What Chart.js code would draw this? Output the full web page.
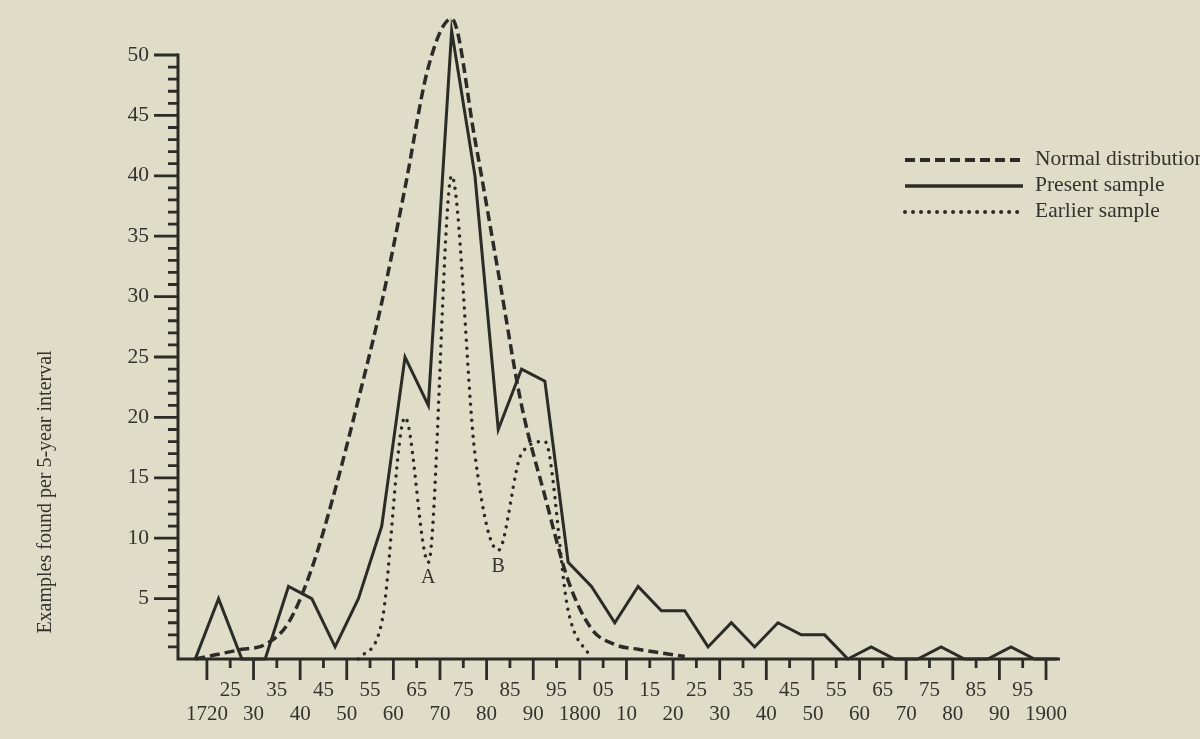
<!DOCTYPE html>
<html>
<head>
<meta charset="utf-8">
<script src="https://cdn.jsdelivr.net/npm/chart.js@4.4.1/dist/chart.umd.min.js"></script>
<style>
  html, body { margin: 0; padding: 0; background: #dfddc7; }
  canvas { display: block; }
</style>
</head>
<body>
<canvas id="chart" width="1200" height="739"></canvas>
<script>
// mid-points of the 5-year intervals
const midYears = [1717.5, 1722.5, 1727.5, 1732.5, 1737.5, 1742.5, 1747.5, 1752.5, 1757.5, 1762.5,
                  1767.5, 1772.5, 1777.5, 1782.5, 1787.5, 1792.5, 1797.5, 1802.5, 1807.5, 1812.5,
                  1817.5, 1822.5, 1827.5, 1832.5, 1837.5, 1842.5, 1847.5, 1852.5, 1857.5, 1862.5,
                  1867.5, 1872.5, 1877.5, 1882.5, 1887.5, 1892.5, 1897.5, 1902.5];
const normalDist = [0, 0.4, 0.8, 1.2, 3, 7.5, 14, 21.5, 29.5, 39,
                    49, 53, 43, 32, 21, 13.5, 6.5, 2.5, 1.2, 0.8,
                    0.5, 0.2, null, null, null, null, null, null, null, null,
                    null, null, null, null, null, null, null, null];
const presentSample = [0, 5, 0, 0, 6, 5, 1, 5, 11, 25,
                       21, 52, 40, 19, 24, 23, 8, 6, 3, 6,
                       4, 4, 1, 3, 1, 3, 2, 2, 0, 1,
                       0, 0, 1, 0, 0, 1, 0, 0];
const earlierSample = [null, null, null, null, null, null, null, 0, 3, 20,
                       8, 40, 17, 9, 17, 18, 4, 0, null, null,
                       null, null, null, null, null, null, null, null, null, null,
                       null, null, null, null, null, null, null, null];
const seriesNames = ['Normal distribution', 'Present sample', 'Earlier sample'];

// axis ticks and their labels
const lowerYears = [1720, 1730, 1740, 1750, 1760, 1770, 1780, 1790, 1800, 1810,
                    1820, 1830, 1840, 1850, 1860, 1870, 1880, 1890, 1900];
const lowerLabels = ['1720', '30', '40', '50', '60', '70', '80', '90', '1800', '10',
                     '20', '30', '40', '50', '60', '70', '80', '90', '1900'];
const upperYears = [1725, 1735, 1745, 1755, 1765, 1775, 1785, 1795, 1805, 1815,
                    1825, 1835, 1845, 1855, 1865, 1875, 1885, 1895];
const upperLabels = ['25', '35', '45', '55', '65', '75', '85', '95', '05', '15',
                     '25', '35', '45', '55', '65', '75', '85', '95'];
const yTickValues = [5, 10, 15, 20, 25, 30, 35, 40, 45, 50];
const notes = [{ text: 'A', x: 1767.5, y: 6.7 }, { text: 'B', x: 1782.5, y: 7.6 }];
const yTitle = 'Examples found per 5-year interval';

const ink = '#2b2b27';
const serif = "'Liberation Serif', 'Times New Roman', serif";
Chart.defaults.font.family = serif;
Chart.defaults.color = '#33332e';

const toPoints = arr => midYears.map((x, i) => ({ x: x, y: arr[i] }));

const paperAxes = {
  id: 'paperAxes',
  beforeDatasetsDraw(chart) {
    const { ctx, chartArea: a, scales: { x, y } } = chart;
    const y0 = y.getPixelForValue(0);
    ctx.save();
    ctx.strokeStyle = ink;
    ctx.lineCap = 'butt';
    ctx.lineWidth = 3;
    ctx.beginPath();
    ctx.moveTo(a.left - 1.5, y0); ctx.lineTo(a.right, y0);
    ctx.moveTo(a.left, y0 + 1.5); ctx.lineTo(a.left, y.getPixelForValue(50) - 1.5);
    ctx.stroke();
    ctx.lineWidth = 2.8;
    ctx.beginPath();
    for (let v = 1; v <= 50; v++) {
      const py = y.getPixelForValue(v);
      const len = v % 5 === 0 ? 24 : 10;
      ctx.moveTo(a.left - len, py); ctx.lineTo(a.left, py);
    }
    lowerYears.forEach(v => { const px = x.getPixelForValue(v); ctx.moveTo(px, y0); ctx.lineTo(px, y0 + 21); });
    upperYears.forEach(v => { const px = x.getPixelForValue(v); ctx.moveTo(px, y0); ctx.lineTo(px, y0 + 9); });
    ctx.stroke();
    ctx.restore();
  },
  afterDraw(chart) {
    const { ctx, scales: { x, y } } = chart;
    ctx.save();
    ctx.fillStyle = '#33332e';
    // point labels A / B
    ctx.font = '20px ' + serif;
    ctx.textAlign = 'center';
    ctx.textBaseline = 'middle';
    notes.forEach(n => ctx.fillText(n.text, x.getPixelForValue(n.x), y.getPixelForValue(n.y)));
    // y title
    ctx.save();
    ctx.translate(46, 492);
    ctx.rotate(-Math.PI / 2);
    ctx.font = '20px ' + serif;
    ctx.fillText(yTitle, 0, 0);
    ctx.restore();
    // legend
    const lx0 = 905, lx1 = 1023, ly = [160, 186, 212];
    chart.data.datasets.forEach((ds, i) => {
      ctx.save();
      ctx.strokeStyle = ds.borderColor;
      ctx.lineWidth = ds.borderWidth + 0.5;
      ctx.lineCap = ds.borderCapStyle || 'butt';
      ctx.setLineDash(ds.borderDash || []);
      ctx.beginPath();
      ctx.moveTo(lx0, ly[i]); ctx.lineTo(lx1, ly[i]);
      ctx.stroke();
      ctx.restore();
      ctx.font = '21.5px ' + serif;
      ctx.textAlign = 'left';
      ctx.fillText(ds.label, 1035, ly[i] - 1);
    });
    ctx.restore();
  }
};

new Chart(document.getElementById('chart'), {
  type: 'line',
  data: {
    datasets: [
      { label: seriesNames[0], data: toPoints(normalDist), borderColor: ink, borderWidth: 3.5,
        borderDash: [10, 5], cubicInterpolationMode: 'monotone', pointRadius: 0, fill: false, clip: 8 },
      { label: seriesNames[1], data: toPoints(presentSample), borderColor: ink, borderWidth: 3,
        tension: 0, pointRadius: 0, fill: false, clip: 8, borderJoinStyle: 'miter' },
      { label: seriesNames[2], data: toPoints(earlierSample), borderColor: ink, borderWidth: 3.5,
        borderDash: [0.01, 8], borderCapStyle: 'round', cubicInterpolationMode: 'monotone',
        pointRadius: 0, fill: false, clip: 8 }
    ]
  },
  options: {
    responsive: false,
    animation: false,
    events: [],
    layout: { padding: { top: 12, right: 140, bottom: 0, left: 0 } },
    plugins: { legend: { display: false }, tooltip: { enabled: false } },
    scales: {
      x: {
        type: 'linear', min: 1713.8, max: 1903,
        grid: { display: false, drawTicks: false, tickLength: 0 },
        border: { display: false },
        afterBuildTicks: s => { s.ticks = lowerYears.concat(upperYears).sort((p, q) => p - q).map(v => ({ value: v })); },
        afterFit: s => { s.height = 80; s.paddingLeft = 0; s.paddingRight = 0; },
        ticks: {
          autoSkip: false, maxRotation: 0, minRotation: 0, padding: 19.5,
          font: { size: 21, lineHeight: 1.15 }, color: '#33332e',
          callback: v => {
            const li = lowerYears.indexOf(v);
            if (li >= 0) return ['', lowerLabels[li]];
            const ui = upperYears.indexOf(v);
            return ui >= 0 ? [upperLabels[ui]] : null;
          }
        }
      },
      y: {
        min: 0, max: 53.56,
        grid: { display: false, drawTicks: false, tickLength: 0 },
        border: { display: false },
        afterBuildTicks: s => { s.ticks = yTickValues.map(v => ({ value: v })); },
        afterFit: s => { s.width = 178; s.paddingTop = 0; s.paddingBottom = 0; },
        ticks: { padding: 29, font: { size: 21.5 }, color: '#33332e', callback: v => String(v) }
      }
    }
  },
  plugins: [paperAxes]
});
</script>
</body>
</html>
